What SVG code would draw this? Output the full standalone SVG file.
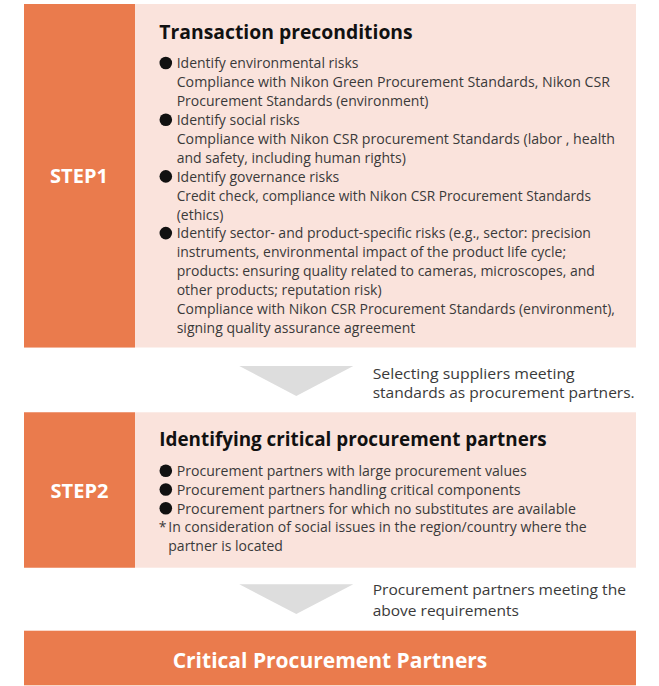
<svg xmlns="http://www.w3.org/2000/svg" width="659" height="686" viewBox="0 0 659 686">
<style>
.org{fill:#EA7B4D}
.pnk{fill:#FAE3DC}
.tri{fill:#DDDDDD}
.dot{fill:#111111}
.step{font-family:"Open Sans","Liberation Sans",sans-serif;font-weight:700;font-size:20px;fill:#FFFFFF;text-anchor:middle}
.ttl{font-family:"Open Sans","Liberation Sans",sans-serif;font-weight:700;font-size:20px;fill:#111111}
.body{font-family:"Open Sans","Liberation Sans",sans-serif;font-size:14px;fill:#3A3A3A}
.side{font-family:"Open Sans","Liberation Sans",sans-serif;font-size:14.4px;fill:#3A3A3A}
.final{font-family:"Open Sans","Liberation Sans",sans-serif;font-weight:700;font-size:22px;fill:#FFFFFF;text-anchor:middle}
</style>
<defs>
<circle id="b" class="dot" r="6.3"/>
</defs>
<g id="step1">
<rect class="pnk" x="24" y="4" width="612" height="343.5"/>
<rect class="org" x="24" y="4" width="111" height="343.5"/>
<text class="step" x="79" y="183.3">STEP1</text>
<text class="ttl" x="159.3" y="39" textLength="253.4" lengthAdjust="spacingAndGlyphs">Transaction preconditions</text>
<use href="#b" x="165.8" y="63"/>
<text class="body" x="176.7" y="68.3">Identify environmental risks</text>
<text class="body" x="176.7" y="87.2" textLength="433.3" lengthAdjust="spacingAndGlyphs">Compliance with Nikon Green Procurement Standards, Nikon CSR</text>
<text class="body" x="176.7" y="106.1">Procurement Standards (environment)</text>
<use href="#b" x="165.8" y="119.7"/>
<text class="body" x="176.7" y="125">Identify social risks</text>
<text class="body" x="176.7" y="143.9" textLength="438.3" lengthAdjust="spacingAndGlyphs">Compliance with Nikon CSR procurement Standards (labor , health</text>
<text class="body" x="176.7" y="162.8">and safety, including human rights)</text>
<use href="#b" x="165.8" y="176.4"/>
<text class="body" x="176.7" y="181.7">Identify governance risks</text>
<text class="body" x="176.7" y="200.6" textLength="414.3" lengthAdjust="spacingAndGlyphs">Credit check, compliance with Nikon CSR Procurement Standards</text>
<text class="body" x="176.7" y="219.5">(ethics)</text>
<use href="#b" x="165.8" y="233.1"/>
<text class="body" x="176.7" y="238.4" textLength="414.3" lengthAdjust="spacingAndGlyphs">Identify sector- and product-specific risks (e.g., sector: precision</text>
<text class="body" x="176.7" y="257.3">instruments, environmental impact of the product life cycle;</text>
<text class="body" x="176.7" y="276.2">products: ensuring quality related to cameras, microscopes, and</text>
<text class="body" x="176.7" y="295.1">other products; reputation risk)</text>
<text class="body" x="176.7" y="314">Compliance with Nikon CSR Procurement Standards (environment),</text>
<text class="body" x="176.7" y="332.9">signing quality assurance agreement</text>
</g>
<g id="step2">
<rect class="pnk" x="24" y="412.3" width="612" height="155.4"/>
<rect class="org" x="24" y="412.3" width="111" height="155.4"/>
<text class="step" x="79.5" y="497.7">STEP2</text>
<text class="ttl" x="159.3" y="445.7" textLength="387.4" lengthAdjust="spacingAndGlyphs">Identifying critical procurement partners</text>
<use href="#b" x="165.8" y="470.7"/>
<text class="body" x="176.7" y="476" textLength="350" lengthAdjust="spacingAndGlyphs">Procurement partners with large procurement values</text>
<use href="#b" x="165.8" y="489.5"/>
<text class="body" x="176.7" y="494.8" textLength="344" lengthAdjust="spacingAndGlyphs">Procurement partners handling critical components</text>
<use href="#b" x="165.8" y="508.2"/>
<text class="body" x="176.7" y="513.5" textLength="399.3" lengthAdjust="spacingAndGlyphs">Procurement partners for which no substitutes are available</text>
<text class="body" x="158.7" y="531.9">*<tspan x="168.3" textLength="418.4" lengthAdjust="spacingAndGlyphs">In consideration of social issues in the region/country where the</tspan></text>
<text class="body" x="168.3" y="550.7">partner is located</text>
</g>
<g id="final">
<rect class="org" x="24" y="630.7" width="612" height="54.6"/>
<text class="final" x="330" y="667.7" textLength="314.6" lengthAdjust="spacingAndGlyphs">Critical Procurement Partners</text>
</g>
<g id="connectors">
<polygon class="tri" points="239.3,366 353.3,366 296.3,396"/>
<text class="side" x="372.7" y="378.5" textLength="202" lengthAdjust="spacingAndGlyphs">Selecting suppliers meeting</text>
<text class="side" x="372.7" y="397.5" textLength="262" lengthAdjust="spacingAndGlyphs">standards as procurement partners.</text>
<polygon class="tri" points="239.3,584.3 353.3,584.3 296.3,614"/>
<text class="side" x="372.7" y="595.3" textLength="253.3" lengthAdjust="spacingAndGlyphs">Procurement partners meeting the</text>
<text class="side" x="372.7" y="616" textLength="146.3" lengthAdjust="spacingAndGlyphs">above requirements</text>
</g>
</svg>
